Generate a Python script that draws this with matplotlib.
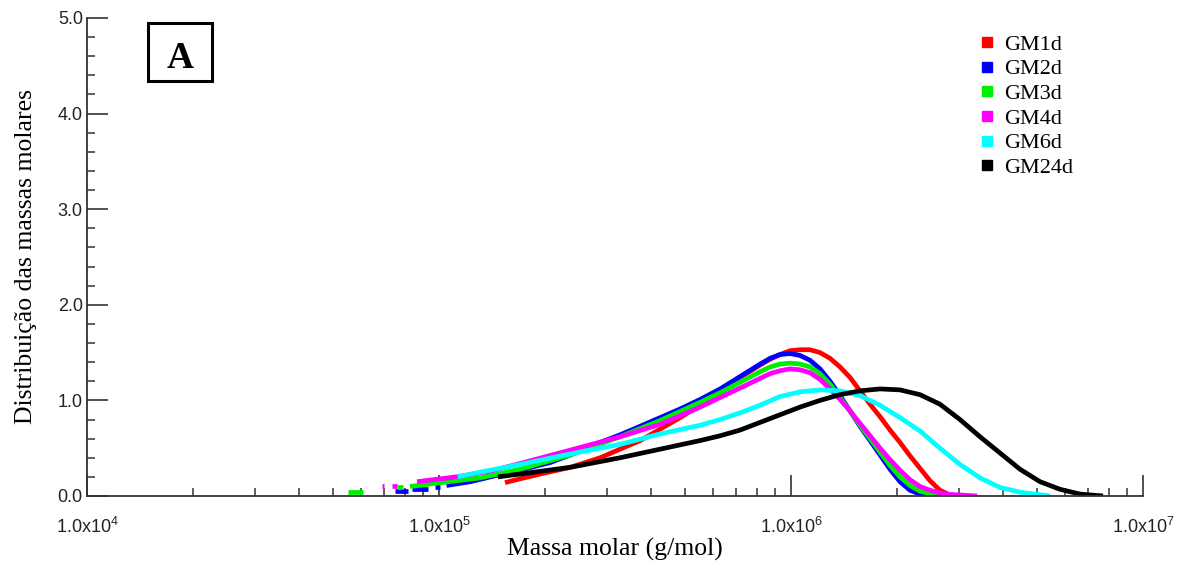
import numpy as np
import matplotlib.pyplot as plt
from matplotlib.lines import Line2D
from matplotlib.patches import Rectangle
from matplotlib.ticker import FixedLocator, LogLocator, NullFormatter

plt.rcParams['font.family'] = ['Liberation Sans', 'DejaVu Sans']
plt.rcParams['mathtext.fontset'] = 'custom'
plt.rcParams['mathtext.rm'] = 'Liberation Sans'

# massa molar (g/mol) e distribuicao
labels = ['GM1d', 'GM2d', 'GM3d', 'GM4d', 'GM6d', 'GM24d']
colors = ['#ff0000', '#0000ff', '#00ee00', '#ff00ff', '#00ffff', '#000000']

gm1_m = [154e3, 170e3, 194e3, 236e3, 287e3, 327e3, 373e3, 425e3, 484e3, 552e3,
         629e3, 717e3, 817e3, 872e3, 931e3, 994e3, 1061e3, 1132e3, 1209e3, 1291e3,
         1378e3, 1471e3, 1570e3, 1677e3, 1790e3, 1911e3, 2040e3, 2178e3, 2325e3,
         2482e3, 2650e3, 2829e3, 2920e3]
gm1_y = [0.14, 0.18, 0.23, 0.30, 0.40, 0.49, 0.58, 0.70, 0.82, 0.95,
         1.09, 1.24, 1.37, 1.43, 1.48, 1.52, 1.53, 1.53, 1.50, 1.44,
         1.35, 1.24, 1.10, 0.96, 0.83, 0.69, 0.56, 0.42, 0.29,
         0.16, 0.06, 0.01, 0.00]

gm2_m = [105e3, 123e3, 140e3, 170e3, 207e3, 236e3, 287e3, 327e3, 373e3, 425e3,
         484e3, 552e3, 629e3, 717e3, 817e3, 872e3, 931e3, 994e3, 1061e3, 1132e3,
         1209e3, 1291e3, 1378e3, 1471e3, 1570e3, 1677e3, 1790e3, 1911e3, 2040e3,
         2178e3, 2325e3, 2570e3]
gm2_y = [0.11, 0.15, 0.20, 0.27, 0.35, 0.43, 0.56, 0.64, 0.73, 0.82,
         0.91, 1.01, 1.12, 1.25, 1.38, 1.44, 1.48, 1.49, 1.47, 1.42,
         1.33, 1.20, 1.05, 0.89, 0.73, 0.58, 0.43, 0.28, 0.15,
         0.06, 0.02, 0.00]

gm3_m = [82.7e3, 107e3, 131e3, 170e3, 236e3, 327e3, 425e3, 552e3, 629e3, 717e3,
         817e3, 872e3, 931e3, 994e3, 1061e3, 1132e3, 1209e3, 1291e3, 1378e3, 1471e3,
         1570e3, 1677e3, 1790e3, 1911e3, 2040e3, 2178e3, 2325e3, 2570e3, 2960e3]
gm3_y = [0.10, 0.15, 0.19, 0.28, 0.43, 0.62, 0.79, 0.98, 1.08, 1.19,
         1.30, 1.35, 1.38, 1.39, 1.38, 1.35, 1.28, 1.17, 1.03, 0.89,
         0.74, 0.60, 0.46, 0.32, 0.20, 0.11, 0.05, 0.01, 0.00]

gm4_m = [86.6e3, 112e3, 140e3, 170e3, 236e3, 327e3, 425e3, 552e3, 629e3, 717e3,
         817e3, 872e3, 931e3, 994e3, 1061e3, 1132e3, 1209e3, 1291e3, 1378e3, 1471e3,
         1570e3, 1677e3, 1790e3, 1911e3, 2040e3, 2178e3, 2325e3, 2482e3, 2740e3,
         3380e3]
gm4_y = [0.15, 0.20, 0.26, 0.34, 0.48, 0.62, 0.75, 0.93, 1.03, 1.13,
         1.23, 1.28, 1.31, 1.33, 1.32, 1.29, 1.22, 1.12, 1.01, 0.89,
         0.76, 0.63, 0.50, 0.38, 0.27, 0.17, 0.10, 0.06, 0.02,
         0.00]

gm6_m = [113e3, 131e3, 170e3, 236e3, 327e3, 425e3, 552e3, 629e3, 717e3, 817e3,
         931e3, 1061e3, 1209e3, 1378e3, 1570e3, 1790e3, 2040e3, 2325e3, 2650e3,
         3020e3, 3442e3, 3924e3, 4472e3, 5442e3]
gm6_y = [0.20, 0.25, 0.33, 0.44, 0.54, 0.65, 0.74, 0.80, 0.87, 0.95,
         1.04, 1.09, 1.11, 1.10, 1.05, 0.95, 0.82, 0.68, 0.50,
         0.33, 0.19, 0.09, 0.04, 0.00]

gm24_m = [147e3, 170e3, 236e3, 327e3, 425e3, 552e3, 629e3, 717e3, 817e3, 931e3,
          1061e3, 1209e3, 1378e3, 1570e3, 1790e3, 2040e3, 2325e3, 2650e3, 3020e3,
          3442e3, 3924e3, 4472e3, 5097e3, 5810e3, 6622e3, 7700e3]
gm24_y = [0.20, 0.23, 0.30, 0.40, 0.49, 0.58, 0.63, 0.69, 0.77, 0.85,
          0.93, 1.00, 1.06, 1.10, 1.12, 1.11, 1.06, 0.96, 0.80,
          0.62, 0.45, 0.28, 0.15, 0.07, 0.02, 0.00]

# pontos isolados no inicio das curvas (m_inicio, m_fim, y)
gm1_tail = []
gm2_tail = [(75000, 81640, 0.05), (83810, 93050, 0.07), (97420, 100650, 0.09)]
gm3_tail = [(55100, 60800, 0.045), (75990, 79030, 0.09)]
gm4_tail = [(69000, 70000, 0.10), (73560, 75990, 0.10)]
gm6_tail = []
gm24_tail = []

series = [(gm1_m, gm1_y, gm1_tail), (gm2_m, gm2_y, gm2_tail), (gm3_m, gm3_y, gm3_tail),
          (gm4_m, gm4_y, gm4_tail), (gm6_m, gm6_y, gm6_tail), (gm24_m, gm24_y, gm24_tail)]

fig = plt.figure(figsize=(11.89, 5.67), dpi=100)
ax = fig.add_axes([87 / 1189, 1 - 496 / 567, 1056 / 1189, 478 / 567])

for (m, y, tail), c in zip(series, colors):
    ax.plot(m, y, color=c, lw=3.4, solid_capstyle='butt', solid_joinstyle='round')
    for m0, m1, yt in tail:
        ax.plot([m0, m1], [yt, yt], color=c, lw=3.4, solid_capstyle='butt')

ax.set_xscale('log')
ax.set_xlim(1e4, 1e7)
ax.set_ylim(0, 5)

ax.xaxis.set_major_locator(FixedLocator([1e4, 1e5, 1e6, 1e7]))
ax.set_xticklabels([r'1.0x10$^{4}$', r'1.0x10$^{5}$', r'1.0x10$^{6}$', r'1.0x10$^{7}$'])
ax.xaxis.set_minor_locator(LogLocator(base=10, subs=np.arange(2, 10)))
ax.xaxis.set_minor_formatter(NullFormatter())
ax.yaxis.set_major_locator(FixedLocator([0, 1, 2, 3, 4, 5]))
ax.set_yticklabels(['0.0', '1.0', '2.0', '3.0', '4.0', '5.0'])
ax.yaxis.set_minor_locator(FixedLocator([v for v in np.arange(0, 5.01, 0.2)
                                         if abs(v - round(v)) > 1e-6]))

ax.tick_params(which='major', direction='in', length=15, width=1.2, color='#333333',
               labelsize=13, labelcolor='#222222')
ax.tick_params(which='minor', direction='in', length=5.5, width=1.1, color='#333333')
ax.tick_params(axis='x', which='major', pad=15)
ax.tick_params(axis='y', which='major', pad=3)

for s in ['top', 'right']:
    ax.spines[s].set_visible(False)
for s in ['left', 'bottom']:
    ax.spines[s].set_color('#333333')
    ax.spines[s].set_linewidth(1.3)

ax.set_xlabel('Massa molar (g/mol)', family='Liberation Serif', fontsize=18.5, labelpad=1)
ax.set_ylabel('Distribuição das massas molares', family='Liberation Serif',
              fontsize=18.5, labelpad=15)

ax.add_patch(Rectangle((0.0578, 0.868), 0.0606, 0.1215, transform=ax.transAxes,
                       fill=False, ec='black', lw=2.2, clip_on=False))
ax.text(0.088, 0.895, 'A', transform=ax.transAxes, ha='center', va='baseline',
        family='Liberation Serif', fontweight='bold', fontsize=27)

handles = [Line2D([], [], ls='none', marker='s', markersize=7, color=c) for c in colors]
leg = ax.legend(handles, labels, loc='upper left', bbox_to_anchor=(0.838, 0.985),
                frameon=False, prop={'family': 'Liberation Serif', 'size': 16},
                handlelength=0.6, handletextpad=0.47, labelspacing=0.185,
                borderaxespad=0)

fig.savefig('out.png', dpi=100)
